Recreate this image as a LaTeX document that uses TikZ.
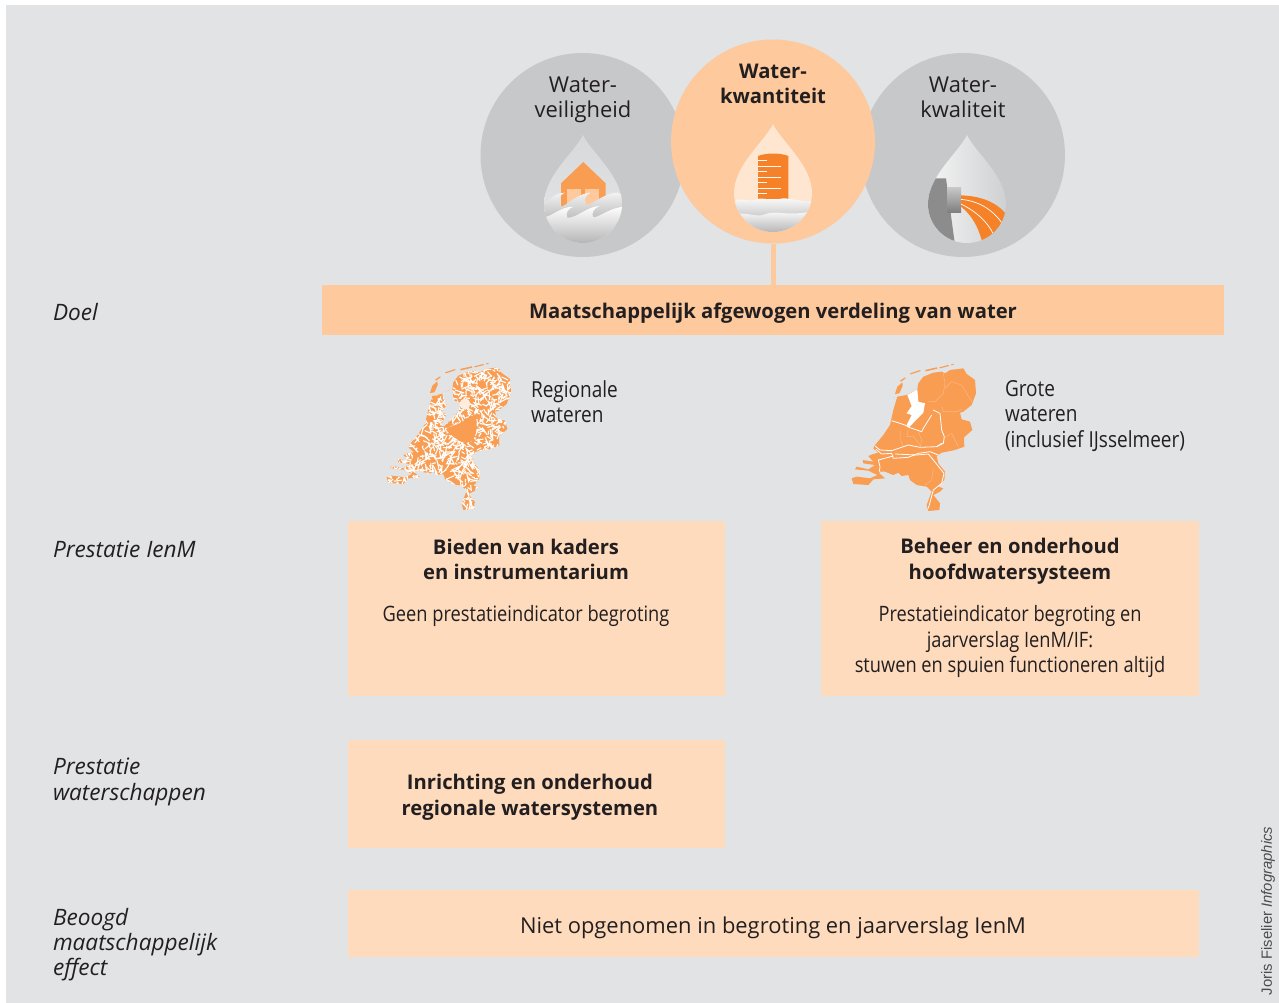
\documentclass[tikz,border=0pt]{standalone}
\usepackage{fontspec}
\setmainfont{Open Sans}
\newfontfamily\condfont[FakeStretch=0.86]{Open Sans}
\newfontfamily\creditfont{Liberation Sans}
\definecolor{pagebg}{HTML}{E1E3E5}
\definecolor{greycirc}{HTML}{C6C8CA}
\definecolor{peach}{HTML}{FDC99D}
\definecolor{paleboxc}{HTML}{FEDBBD}
\definecolor{maporange}{HTML}{F99D53}
\definecolor{strongorange}{HTML}{F58229}
\definecolor{inkc}{HTML}{231F20}
\definecolor{provline}{HTML}{FBB884}
\newcommand\droppath{(0,-69) .. controls (8,-52) and (39,-28) .. (39,0) .. controls (39,21.5) and (21.5,39) .. (0,39) .. controls (-21.5,39) and (-39,21.5) .. (-39,0) .. controls (-39,-28) and (-8,-52) .. (0,-69) -- cycle}
\newcommand\nlmain{(232,118) -- (235,100) -- (250,80) -- (280,68) -- (305,65) -- (315,70) -- (330,60) -- (370,55) -- (380,72) -- (405,90) -- (408,130) -- (395,165) -- (370,185) -- (360,188) -- (365,208) -- (390,215) -- (397,240) -- (372,262) -- (373,290) -- (345,300) -- (305,308) -- (290,318) -- (295,340) -- (315,365) -- (313,390) -- (295,410) -- (310,415) -- (300,425) -- (280,435) -- (300,460) -- (298,480) -- (265,483) -- (260,465) -- (275,425) -- (260,410) -- (230,405) -- (210,390) -- (205,375) -- (185,378) -- (175,368) -- (160,375) -- (135,365) -- (120,365) -- (118,370) -- (135,385) -- (100,388) -- (85,405) -- (40,402) -- (35,385) -- (50,380) -- (90,385) -- (112,375) -- (85,362) -- (45,358) -- (50,350) -- (85,358) -- (105,345) -- (70,340) -- (68,330) -- (100,335) -- (85,318) -- (100,312) -- (115,308) -- (100,295) -- (103,288) -- (130,255) -- (150,225) -- (160,180) -- (172,140) -- (200,135) -- cycle}
\newcommand\nlisles{(165,132) -- (172,110) -- (187,97) -- (188,108) -- (178,130) -- cycle (180,92) -- (195,82) -- (197,85) -- (183,95) -- cycle (210,70) -- (240,60) -- (242,63) -- (213,73) -- cycle (255,60) -- (290,52) -- (292,56) -- (258,64) -- cycle (298,52) -- (325,45) -- (327,48) -- (300,55) -- cycle (333,44) -- (340,41) -- (341,44) -- (334,46) -- cycle}
\newcommand\nllake{(232,118) -- (202,135) -- (215,168) -- (200,190) -- (215,195) -- (200,225) -- (207,232) -- (250,188) -- (255,160) -- (235,155) -- cycle}
\tikzset{
  every node/.style={inner sep=0pt,outer sep=0pt,text=inkc},
  circ/.style={circle,minimum size=204bp},
  boxn/.style={rectangle,fill=paleboxc,anchor=north west},
  body/.style={font=\fontsize{22}{25.5}\selectfont,align=center},
  bodyb/.style={font=\fontsize{20.3}{25.7}\selectfont\bfseries,align=center},
  cond/.style={font=\fontsize{21.3}{25.5}\selectfont\condfont},
  condmap/.style={font=\fontsize{22.2}{25.2}\selectfont\condfont,align=left,anchor=west},
  sidelabel/.style={font=\fontsize{22.7}{25.4}\selectfont\itshape,align=left,anchor=west},
  riverl/.style={draw=white,line width=0.8bp,line join=round},
  provl/.style={draw=provline,line width=0.5bp},
}
\begin{document}
\begin{tikzpicture}[x=1bp,y=-1bp]
\useasboundingbox (0,0) rectangle (1279,1003);
\fill[white] (0,0) rectangle (1279,1003);
\fill[pagebg] (6,5) rectangle (1279,1003);
% circles
\node[circ,fill=greycirc] (cL) at (582.5,155) {};
\node[circ,fill=greycirc] (cR) at (963,155) {};
\node[circ,fill=peach] (cM) at (773,141.5) {};
% bar and boxes
\node[boxn,fill=peach,minimum width=902bp,minimum height=50bp] (doel) at (322,285) {};
\node[font=\fontsize{20.3}{25}\selectfont\bfseries] (doelT) at (773,313.5) {Maatschappelijk afgewogen verdeling van water};
\draw[draw=peach,line width=5bp] (cM.south) -- (doel.north -| cM.south);
\node[boxn,minimum width=377bp,minimum height=175bp] (bA) at (348,521) {};
\node[boxn,minimum width=378bp,minimum height=175bp] (bB) at (821,521) {};
\node[boxn,minimum width=377bp,minimum height=108bp] (bC) at (348,740) {};
\node[boxn,minimum width=851bp,minimum height=67bp] (bD) at (348,890) {};
\node[font=\fontsize{22}{25}\selectfont] (bDT) at (773,928) {Niet opgenomen in begroting en jaarverslag IenM};
% circle labels
\node[body] (tL) at (583,100) {Water-\\veiligheid};
\node[bodyb] (tM) at (773,84) {Water-\\kwantiteit};
\node[body] (tR) at (963,97) {Water-\\kwaliteit};
% left drop
\begin{scope}
\shade[top color=greycirc!70!white,bottom color=greycirc!45!white,shift={(583,204)}] \droppath;
\clip[shift={(583,204)}] \droppath;
\begin{scope}[shift={(470,30)},scale=1/3]
\fill[maporange] (340,396) -- (407,460) -- (407,530) -- (273,530) -- (273,460) -- cycle;
\fill[peach] (290,478) rectangle (332,530);
\fill[peach] (345,478) rectangle (387,530);
\shade[top color=white!95!black,bottom color=black!32] (215,535) .. controls (235,505) and (255,490) .. (285,488) .. controls (265,497) and (262,515) .. (272,530) .. controls (290,528) and (320,490) .. (362,488) .. controls (345,497) and (340,510) .. (350,525) .. controls (375,520) and (400,490) .. (442,488) -- (470,500) -- (470,590) -- (215,590) -- cycle;
\shade[top color=white,bottom color=black!30] (215,562) .. controls (240,565) and (270,530) .. (310,530) .. controls (295,535) and (285,550) .. (292,563) .. controls (320,565) and (350,530) .. (388,528) .. controls (372,535) and (362,550) .. (370,562) .. controls (395,560) and (420,530) .. (470,530) -- (470,645) -- (215,645) -- cycle;
\end{scope}
\end{scope}
% middle drop
\begin{scope}
\fill[fill=paleboxc!70!white,shift={(773,193)}] \droppath;
\clip[shift={(773,193)}] \droppath;
\begin{scope}[shift={(470,30)},scale=1/3]
\fill[strongorange] (864,378) .. controls (890,368) and (930,368) .. (955,378) -- (955,520) -- (864,520) -- cycle;
\foreach \yy in {392,425,458,491} {\fill[white!90!peach] (864,\yy-1.5) rectangle (890,\yy+1.5);}
\foreach \yy in {408,441,474,507} {\fill[white!90!peach] (864,\yy-1.5) rectangle (932,\yy+1.5);}
\shade[top color=white,bottom color=black!22] (785,518) .. controls (805,500) and (830,515) .. (855,510) .. controls (880,498) and (900,515) .. (925,508) .. controls (950,498) and (985,518) .. (1035,512) -- (1035,565) -- (785,565) -- cycle;
\shade[top color=white,bottom color=black!30] (785,558) .. controls (820,538) and (850,565) .. (885,553) .. controls (920,538) and (950,562) .. (1035,542) -- (1035,610) -- (785,610) -- cycle;
\end{scope}
\end{scope}
% right drop
\begin{scope}
\shade[left color=white!96!black,right color=greycirc!85!white,shift={(967,204)}] \droppath;
\clip[shift={(967,204)}] \droppath;
\begin{scope}[shift={(860,50)},scale=1/3]
\fill[black!45] (232,385) -- (258,385) -- (285,585) -- (190,585) -- (190,385) -- cycle;
\shade[top color=black!22,bottom color=black!50] (262,413) rectangle (303,486);
\fill[strongorange] (303,436) .. controls (360,438) and (410,455) .. (440,495) -- (445,590) -- (368,580) .. controls (355,530) and (335,495) .. (303,470) -- cycle;
\draw[draw=white,line width=0.7pt] (303,448) .. controls (350,452) and (395,475) .. (425,518);
\draw[draw=white,line width=0.7pt] (303,462) .. controls (340,480) and (380,510) .. (400,552);
\end{scope}
\end{scope}
% left map: regional waters
\begin{scope}[shift={(375,349)},scale=1/3]
\fill[maporange] \nlisles;
\begin{scope}
\clip \nlmain;
\fill[maporange] (0,0) rectangle (510,510);
\pgfmathsetseed{4242}
\foreach \i in {1,...,1700} {
  \pgfmathsetmacro{\xa}{30+rnd*390}
  \pgfmathsetmacro{\ya}{40+rnd*450}
  \pgfmathsetmacro{\ang}{rnd*360}
  \pgfmathsetmacro{\len}{7+rnd*22}
  \draw[draw=white,line width=1.1bp] (\xa,\ya) -- ++(\ang:\len);
}
\fill[maporange] (213,240) .. controls (240,225) and (265,225) .. (285,200) .. controls (305,195) and (310,230) .. (300,260) .. controls (295,285) and (260,285) .. (245,270) .. controls (235,260) and (220,255) .. (213,240) -- cycle;
\fill[pagebg] \nllake;
\fill[paleboxc!50!white] (270,165) ellipse [x radius=16,y radius=16];
\end{scope}
\end{scope}
% right map: large waters
\begin{scope}[shift={(840,350)},scale=1/3]
\fill[maporange] \nlmain;
\fill[maporange] \nlisles;
\fill[white] \nllake;
\draw[provl] (310,70) -- (315,100) -- (310,130) -- (285,155) -- (265,155);
\draw[provl] (315,115) -- (335,95) -- (365,105) -- (395,155);
\draw[provl] (305,170) -- (310,185) -- (350,185) -- (365,178);
\draw[provl] (310,265) -- (335,250) -- (355,290);
\draw[provl] (180,240) -- (180,265) -- (190,290);
\draw[provl] (205,240) -- (200,260) -- (220,258) -- (240,285);
\draw[provl] (235,245) -- (245,270) -- (240,295);
\draw[provl] (255,405) -- (275,390) -- (280,355);
\draw[riverl] (155,212) -- (195,225) -- (207,232) -- (245,245) -- (250,235) -- (275,195);
\draw[riverl] (280,180) -- (300,190) -- (305,240) -- (313,260) -- (310,280) -- (290,290);
\draw[riverl] (105,288) -- (120,300) -- (155,302) -- (205,285) -- (240,292) -- (290,290) -- (305,280);
\draw[riverl] (108,298) -- (125,312) -- (155,310) -- (160,325) -- (205,322) -- (235,310) -- (270,305) -- (295,315);
\draw[riverl] (115,330) -- (160,318);
\draw[riverl] (115,330) -- (120,350) -- (118,365);
\draw[riverl] (165,312) -- (230,315) -- (265,312) -- (280,330) -- (300,355) -- (312,370) -- (305,400) -- (280,420) -- (265,475);
\end{scope}
% map labels
\node[condmap] (tRegio) at (531,402) {Regionale\\wateren};
\node[condmap] (tGrote) at (1005,416) {Grote\\wateren\\(inclusief IJsselmeer)};
% box contents
\node[bodyb] (tA) at (526,559.5) {Bieden van kaders\\en instrumentarium};
\node[cond] (sA) at (526,616) {Geen prestatieindicator begroting};
\node[bodyb] (tB) at (1010,561) {Beheer en onderhoud\\hoofdwatersysteem};
\node[cond,align=center] (sB) at (1010,641.5) {Prestatieindicator begroting en\\jaarverslag IenM/IF:\\stuwen en spuien functioneren altijd};
\node[bodyb] (tC) at (530,797) {Inrichting en onderhoud\\regionale watersystemen};
% side labels
\node[sidelabel] (l1) at (53,312) {Doel};
\node[sidelabel] (l2) at (53,549) {Prestatie IenM};
\node[sidelabel] (l3) at (53,782) {Prestatie\\waterschappen};
\node[sidelabel] (l4) at (53,944.5) {Beoogd\\maatschappelijk\\effect};
% credit
\node[rotate=90,anchor=west,font=\fontsize{14.9}{16}\selectfont\creditfont,text=black!70] (credit) at (1268,995) {Joris Fiselier \textit{Infographics}};
\end{tikzpicture}
\end{document}
